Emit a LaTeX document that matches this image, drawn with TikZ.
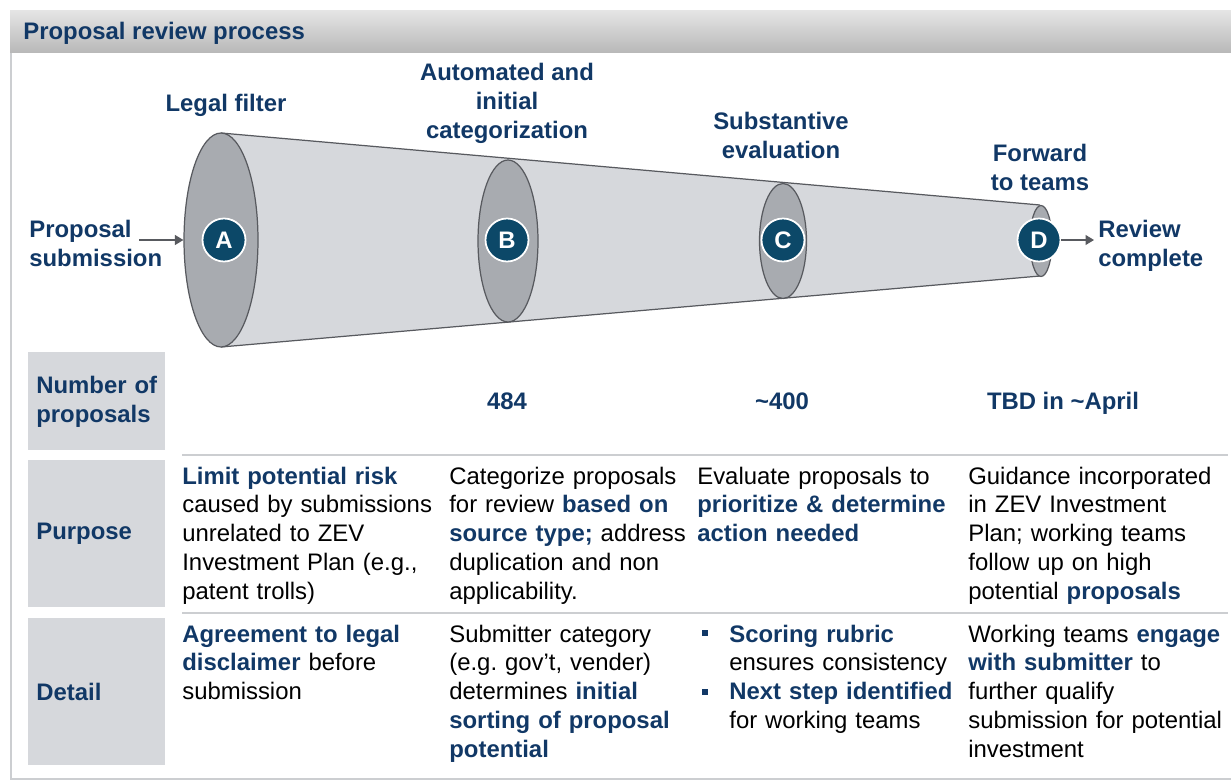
\documentclass[tikz,border=0pt]{standalone}
\usepackage{fontspec}
\setmainfont{Liberation Sans}
\usetikzlibrary{shapes.geometric,arrows.meta}
\frenchspacing

\definecolor{navy}{RGB}{17,56,102}
\definecolor{dotblue}{RGB}{12,72,104}
\definecolor{conegray}{RGB}{214,216,220}
\definecolor{discgray}{RGB}{168,171,176}
\definecolor{rimgray}{RGB}{88,90,95}
\definecolor{boxgray}{RGB}{214,216,220}
\definecolor{linegray}{RGB}{204,206,209}

\newcommand{\fs}{\fontsize{13.6}{16.5}\selectfont}
\newcommand{\kw}[1]{{\bfseries\color{navy}#1}}

\tikzset{
  disc/.style={ellipse,draw=rimgray,fill=discgray,line width=0.7pt,inner sep=0pt},
  dot/.style={circle,fill=dotblue,draw=white,line width=1pt,minimum size=0.86cm,
    inner sep=0pt,text=white,font=\fs\bfseries},
  stagelbl/.style={align=center,anchor=base,inner sep=0pt,text=navy,font=\fs\bfseries},
  rowhead/.style={anchor=north west,fill=boxgray,minimum width=2.74cm,text width=2.42cm,
    inner xsep=0.16cm,align=left,text=navy,font=\fs\bfseries},
  cell/.style={anchor=base west,inner sep=0pt,text width=6cm,align=left,font=\fs},
  count/.style={anchor=base,inner sep=0pt,text=navy,font=\fs\bfseries},
  flow/.style={draw=rimgray,line width=0.7pt,-{Triangle[length=1.7mm,width=2mm]}}
}

\begin{document}
\begin{tikzpicture}[x=0.02cm,y=-0.02cm]
  \useasboundingbox (0,0) rectangle (1231,781);
  % frame and header
  \draw[linegray,line width=1.1pt](11,52)--(11,779)--(1231,779);
  \shade[top color=gray!20,bottom color=gray!55](10,10) rectangle (1231,52);
  \node[anchor=base west,inner sep=0pt,text=navy,font=\fs\bfseries] (title) at (23,39) {Proposal review process};

  % funnel
  \fill[conegray](221,133)--(1040,205)--(1040,276)--(221,347)--cycle;
  \draw[rimgray,line width=0.7pt](221,133)--(1040,205);
  \draw[rimgray,line width=0.7pt](221,347)--(1040,276);
  \node[disc,minimum width=1.48cm,minimum height=4.28cm] (elA) at (221,240) {};
  \node[disc,minimum width=1.20cm,minimum height=3.24cm] (elB) at (508,241) {};
  \node[disc,minimum width=0.94cm,minimum height=2.30cm] (elC) at (783,241) {};
  \node[disc,minimum width=0.44cm,minimum height=1.42cm] (elD) at (1041,241) {};
  \node[dot] (cA) at (224,240) {A};
  \node[dot] (cB) at (507,240) {B};
  \node[dot] (cC) at (783,240) {C};
  \node[dot] (cD) at (1039,240) {D};

  % labels sit on the baseline of their last line
  \node[stagelbl] (lA) at (226,111) {Legal filter};
  \node[stagelbl] (lB) at (507,138) {Automated and\\initial\\categorization};
  \node[stagelbl] (lC) at (781,158) {Substantive\\evaluation};
  \node[stagelbl] (lD) at (1040,190) {Forward\\to teams};

  \node[anchor=base west,inner sep=0pt,align=left,text=navy,font=\fs\bfseries] (sub) at (29,266) {Proposal\\submission};
  \node[anchor=base west,inner sep=0pt,align=left,text=navy,font=\fs\bfseries] (done) at (1098,266) {Review\\complete};
  \coordinate (inA) at (139,240);
  \coordinate (outD) at (1094,240);
  \draw[flow](inA)--(elA.west);
  \draw[flow](cD.east)--(outD);

  % table
  \node[rowhead,minimum height=1.96cm] (nrow) at (28,352) {Number of\\proposals};
  \node[rowhead,minimum height=2.94cm] (prow) at (28,460) {Purpose};
  \node[rowhead,minimum height=2.94cm] (drow) at (28,618) {Detail};
  \draw[linegray,line width=0.9pt](182,455)--(1228,455);
  \draw[linegray,line width=0.9pt](182,613)--(1228,613);

  \node[count] (n2) at (507,409) {484};
  \node[count] (n3) at (782,409) {\textasciitilde400};
  \node[count] (n4) at (1063,409) {TBD in \textasciitilde April};

  \node[cell] (p1) at (182,484) {\kw{Limit potential risk}\\caused by submissions\\unrelated to ZEV\\Investment Plan (e.g.,\\patent trolls)};
  \node[cell] (p2) at (449,484) {Categorize proposals\\for review \kw{based on}\\\kw{source type;} address\\duplication and non\\applicability.};
  \node[cell] (p3) at (697,484) {Evaluate proposals to\\\kw{prioritize \& determine}\\\kw{action needed}};
  \node[cell] (p4) at (968,484) {Guidance incorporated\\in ZEV Investment\\Plan; working teams\\follow up on high\\potential \kw{proposals}};

  \node[cell] (d1) at (182,642) {\kw{Agreement to legal}\\\kw{disclaimer} before\\submission};
  \node[cell] (d2) at (449,642) {Submitter category\\(e.g. gov’t, vender)\\determines \kw{initial}\\\kw{sorting of proposal}\\\kw{potential}};
  \node[cell] (d3) at (729,642) {\kw{Scoring rubric}\\ensures consistency\\\kw{Next step identified}\\for working teams};
  \node[cell] (d4) at (968,642) {Working teams \kw{engage}\\\kw{with submitter} to\\further qualify\\submission for potential\\investment};
  \foreach \y [count=\i] in {633,692}
    \node[fill=navy,minimum size=0.11cm,inner sep=0pt] (bul\i) at (705,\y) {};
\end{tikzpicture}
\end{document}
